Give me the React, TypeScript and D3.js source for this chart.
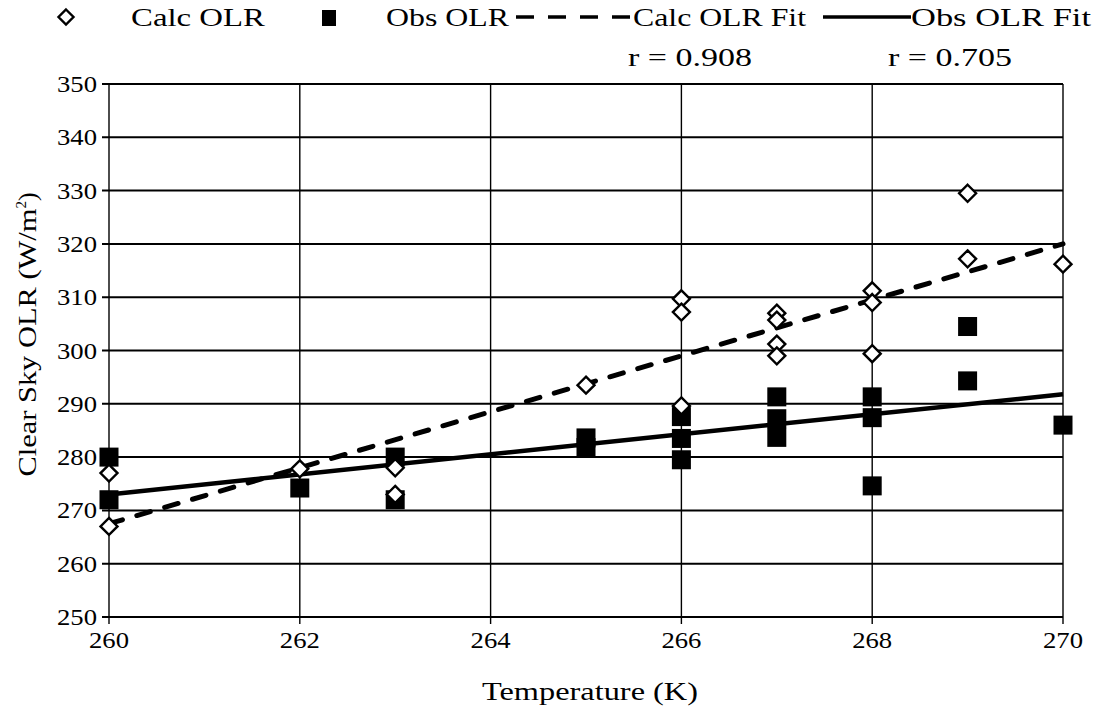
import React from "react";
import * as d3 from "d3";

// Surface temperature (K) for each sample
const calcTemp = [260, 260, 262, 263, 263, 265, 266, 266, 266, 267, 267, 267, 267, 268, 268, 268, 269, 269, 270];
// Calculated clear-sky OLR (W/m²)
const calcOlr = [277, 267, 277.8, 278, 273, 293.5, 309.7, 307.2, 289.6, 307, 305.7, 301.2, 299, 311.2, 309, 299.4, 329.5, 317.2, 316.2];

const obsTemp = [260, 260, 262, 263, 263, 265, 265, 266, 266, 266, 267, 267, 267, 268, 268, 268, 269, 269, 270];
// Observed clear-sky OLR (W/m²)
const obsOlr = [280, 272, 274.2, 280, 272, 283.6, 281.8, 287.6, 283.5, 279.5, 291.3, 287.2, 283.7, 291.3, 287.4, 274.6, 304.5, 294.3, 286];

// Linear fits: [temperature, OLR] at the ends of the range
const calcFit: [number, number][] = [[260, 267.5], [270, 320]];
const obsFit: [number, number][] = [[260, 273], [270, 291.8]];
const calcR = "r = 0.908";
const obsR = "r = 0.705";

const xTicks = [260, 262, 264, 266, 268, 270];
const yTicks = [250, 260, 270, 280, 290, 300, 310, 320, 330, 340, 350];

const W = 1113;
const H = 719;
const FONT = "'Liberation Serif', 'Times New Roman', serif";

// wide-set serif text, stretched to a given run length
function T(props: { x: number; y: number; len: number; anchor?: string; size?: number; children: React.ReactNode; transform?: string }) {
  const { x, y, len, anchor = "start", size = 25, children, transform } = props;
  return (
    <text
      x={x}
      y={y}
      textAnchor={anchor}
      fontFamily={FONT}
      fontSize={size}
      textLength={len}
      lengthAdjust="spacingAndGlyphs"
      transform={transform}
    >
      {children}
    </text>
  );
}

export default function App() {
  const x = d3.scaleLinear().domain([260, 270]).range([109, 1063]);
  const y = d3.scaleLinear().domain([250, 350]).range([617, 84]);
  const line = d3.line<[number, number]>().x((d) => x(d[0])).y((d) => y(d[1]));
  const diamond = (cx: number, cy: number, r: number) =>
    `M${cx},${cy - r}L${cx + r},${cy}L${cx},${cy + r}L${cx - r},${cy}Z`;

  return (
    <svg width={W} height={H} style={{ position: "absolute", left: 0, top: 0, background: "#fff" }}>
      <rect width={W} height={H} fill="#fff" />
      {/* grid */}
      {yTicks.map((t) => (
        <line key={"gy" + t} x1={x(260) - 7} x2={x(270)} y1={y(t)} y2={y(t)} stroke="#000" strokeWidth={2} />
      ))}
      {xTicks.map((t) => (
        <line key={"gx" + t} x1={x(t)} x2={x(t)} y1={y(350)} y2={y(250) + 7} stroke="#000" strokeWidth={1.4} />
      ))}
      {/* fit lines */}
      <path d={line(calcFit) ?? ""} fill="none" stroke="#000" strokeWidth={5} strokeDasharray="14 15" strokeLinecap="round" />
      <path d={line(obsFit) ?? ""} fill="none" stroke="#000" strokeWidth={4.5} />
      {/* observed */}
      {obsTemp.map((t, i) => (
        <rect key={"o" + i} x={x(t) - 9.5} y={y(obsOlr[i]) - 9.5} width={19} height={19} fill="#000" />
      ))}
      {/* calculated */}
      {calcTemp.map((t, i) => (
        <path key={"c" + i} d={diamond(x(t), y(calcOlr[i]), 8.5)} fill="#fff" stroke="#000" strokeWidth={2.4} />
      ))}
      {/* tick labels */}
      {yTicks.map((t) => (
        <T key={"ly" + t} x={97} y={y(t) + 8} len={40} anchor="end" size={24}>
          {t}
        </T>
      ))}
      {xTicks.map((t) => (
        <T key={"lx" + t} x={x(t)} y={648} len={40} anchor="middle" size={24}>
          {t}
        </T>
      ))}
      <T x={590} y={700} len={216} anchor="middle" size={26}>
        Temperature (K)
      </T>
      <text transform={`translate(36,${y(300) - 16}) rotate(-90)`} textAnchor="middle" fontFamily={FONT} fontSize={26}>
        <tspan textLength={268} lengthAdjust="spacingAndGlyphs">Clear Sky OLR (W/m</tspan>
        <tspan dy="-10" fontSize={15}>2</tspan>
        <tspan dy="10">)</tspan>
      </text>
      {/* r values */}
      <T x={690} y={66} len={124} anchor="middle">{calcR}</T>
      <T x={950} y={66} len={124} anchor="middle">{obsR}</T>
      {/* legend */}
      <path d={diamond(66, 17, 7.5)} fill="#fff" stroke="#000" strokeWidth={2.4} />
      <T x={131} y={26} len={134}>Calc OLR</T>
      <rect x={322} y={10} width={14} height={16} fill="#000" />
      <T x={386} y={26} len={123}>Obs OLR</T>
      <line x1={516} x2={632} y1={17} y2={17} stroke="#000" strokeWidth={3.5} strokeDasharray="18 14" />
      <T x={633} y={26} len={173}>Calc OLR Fit</T>
      <line x1={823} x2={911} y1={17} y2={17} stroke="#000" strokeWidth={3.5} />
      <T x={911} y={26} len={180}>Obs OLR Fit</T>
    </svg>
  );
}
